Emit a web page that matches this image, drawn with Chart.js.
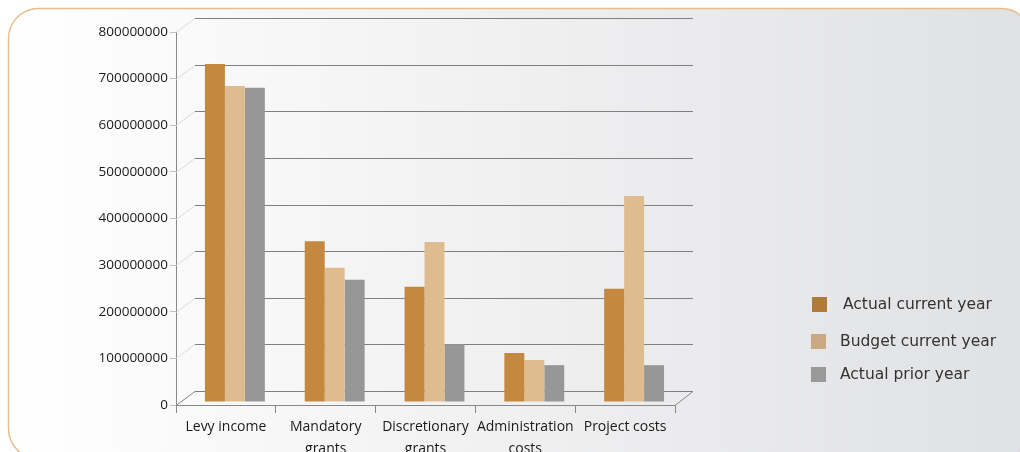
<!DOCTYPE html>
<html>
<head>
<meta charset="utf-8">
<script src="https://cdn.jsdelivr.net/npm/chart.js@4"></script>
<style>
  body { margin: 0; background: #fff; }
  #wrap { width: 1020px; height: 452px; }
</style>
</head>
<body>
<div id="wrap"><canvas id="grafico" width="1020" height="452"></canvas></div>
<script>
// dados
const categorias = [['Levy income'], ['Mandatory', 'grants'], ['Discretionary', 'grants'], ['Administration', 'costs'], ['Project costs']];
const actualCurrent = [725000000, 345000000, 247000000, 105000000, 243000000];
const budgetCurrent = [678000000, 288000000, 343000000, 90000000, 442000000];
const actualPrior   = [674000000, 262000000, 124000000, 79000000, 79000000];
const yMax  = 800000000;
const yStep = 100000000;

const series = [
    { label: 'Actual current year', data: actualCurrent, cor: '#c4893f', corLegenda: '#b07a37' },
    { label: 'Budget current year', data: budgetCurrent, cor: '#dfbc8f', corLegenda: '#c9a882' },
    { label: 'Actual prior year',   data: actualPrior,   cor: '#979797', corLegenda: '#999999' }
];

const DX = 19, DY = 14; // profundidade do "3D"

const moldura = {
    id: 'moldura',
    beforeDraw(chart) {
        const ctx = chart.ctx;
        ctx.save();
        const g = ctx.createLinearGradient(8, 0, 1020, 0);
        g.addColorStop(0, '#ffffff');
        g.addColorStop(1, '#e0e1e3');
        ctx.beginPath();
        ctx.roundRect(8.5, 8.5, 1023, 450, 30);
        ctx.fillStyle = g;
        ctx.fill();
        ctx.strokeStyle = '#e6be8c';
        ctx.lineWidth = 1.5;
        ctx.stroke();
        ctx.restore();
    },
    beforeDatasetsDraw(chart) {
        const ctx = chart.ctx;
        const y = chart.scales.y, a = chart.chartArea;
        ctx.save();
        ctx.lineWidth = 1;
        for (let v = 0; v <= yMax; v += yStep) {
            const py = Math.round(y.getPixelForValue(v)) + 0.5;
            ctx.strokeStyle = v === 0 ? '#888' : '#dcdcdc';
            ctx.beginPath();
            ctx.moveTo(a.left, py);
            ctx.lineTo(a.left + DX, py - DY);
            ctx.stroke();
            ctx.strokeStyle = '#808080';
            ctx.beginPath();
            ctx.moveTo(a.left + DX, py - DY);
            ctx.lineTo(a.right + 18, py - DY);
            ctx.stroke();
        }
        const py0 = Math.round(y.getPixelForValue(0)) + 0.5;
        ctx.strokeStyle = '#888';
        ctx.beginPath();
        ctx.moveTo(a.right, py0);
        ctx.lineTo(a.right + 18, py0 - DY);
        ctx.stroke();
        ctx.restore();
        ctx.save();
        ctx.translate(9, -3);
    },
    afterDatasetsDraw(chart) {
        chart.ctx.restore();
    },
    afterDraw(chart) {
        const ctx = chart.ctx;
        const pos = [{ q: 812, t: 843, y: 304 }, { q: 811, t: 840, y: 341 }, { q: 811, t: 840, y: 374 }];
        ctx.save();
        ctx.font = '15.5px "DejaVu Sans"';
        ctx.textBaseline = 'middle';
        series.forEach((s, i) => {
            ctx.fillStyle = s.corLegenda;
            ctx.fillRect(pos[i].q, pos[i].y - 7, 15, 15);
            ctx.fillStyle = '#333';
            ctx.fillText(s.label, pos[i].t, pos[i].y + 1);
        });
        ctx.restore();
    }
};

new Chart(document.getElementById('grafico'), {
    type: 'bar',
    data: {
        labels: categorias,
        datasets: series.map(s => ({
            label: s.label,
            data: s.data,
            backgroundColor: s.cor,
            borderWidth: 0,
            barPercentage: 1,
            categoryPercentage: 0.6,
            clip: false
        }))
    },
    options: {
        responsive: false,
        devicePixelRatio: 1,
        animation: false,
        layout: { padding: { left: 0, right: 345, top: 32, bottom: 0 } },
        plugins: { legend: { display: false }, tooltip: { enabled: false } },
        scales: {
            x: {
                afterFit: s => { s.height = 47; },
                grid: { offset: true, drawOnChartArea: false, tickLength: 8, color: '#888' },
                border: { color: '#888' },
                ticks: {
                    color: '#1a1a1a', padding: 3, maxRotation: 0, minRotation: 0, autoSkip: false,
                    font: { family: 'Open Sans', size: 14, lineHeight: 1.55 }
                }
            },
            y: {
                min: 0, max: yMax,
                afterFit: s => { s.width = 176; },
                grid: { drawOnChartArea: false, tickLength: 6, color: '#c0c0c0' },
                border: { color: '#888' },
                ticks: { stepSize: yStep, color: '#1a1a1a', padding: 2, font: { family: 'Open Sans', size: 13.5 }, callback: v => String(v) }
            }
        }
    },
    plugins: [moldura]
});
</script>
</body>
</html>
